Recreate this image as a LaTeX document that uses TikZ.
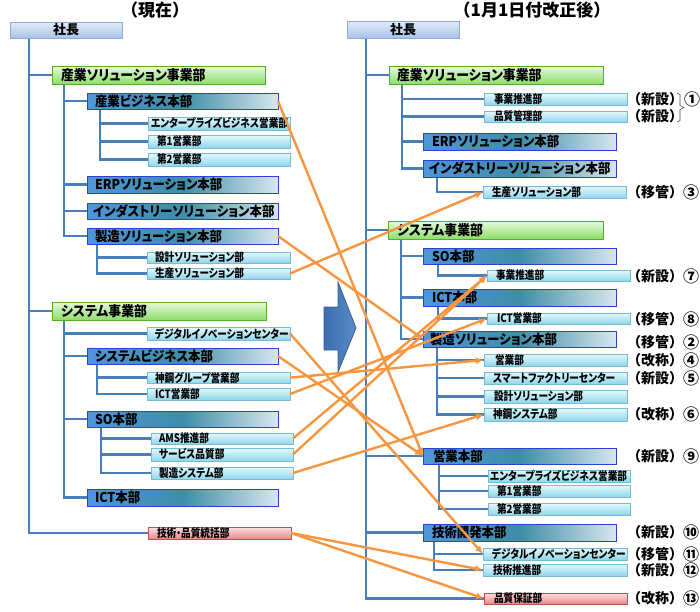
\documentclass[tikz,border=0pt]{standalone}
\usepackage{fontspec}
\newfontfamily\jpT[FakeStretch=1.0]{Noto Sans CJK JP}
\newfontfamily\jpP[FakeStretch=1.0]{Noto Sans CJK JP}
\newfontfamily\jpG[FakeStretch=0.92,RawFeature={+palt}]{Noto Sans CJK JP}
\newfontfamily\jpH[FakeStretch=0.92,RawFeature={+palt}]{Noto Sans CJK JP}
\newfontfamily\jpS[FakeStretch=0.84,RawFeature={+palt}]{Noto Sans CJK JP}
\newfontfamily\jpA[FakeStretch=1.0]{Noto Sans CJK JP}
\usetikzlibrary{arrows.meta,shadows}
\pgfdeclarelayer{background}
\pgfsetlayers{background,main}
\definecolor{cPresD}{HTML}{8EAADB}
\definecolor{cPresT}{HTML}{E2EBF7}
\definecolor{cPresB}{HTML}{A9C3E6}
\definecolor{cGrnD}{HTML}{4FB02A}
\definecolor{cGrnT}{HTML}{E6FADC}
\definecolor{cGrnB}{HTML}{8EDC6A}
\definecolor{cHqD}{HTML}{2F3FD8}
\definecolor{cHqL}{HTML}{4F95DC}
\definecolor{cHqM}{HTML}{3E8DA8}
\definecolor{cHqR}{HTML}{D8E6EF}
\definecolor{cSubD}{HTML}{78BCD0}
\definecolor{cSubT}{HTML}{E6F9FD}
\definecolor{cSubB}{HTML}{8ED6EC}
\definecolor{cPnkD}{HTML}{C0504D}
\definecolor{cPnkT}{HTML}{FBE2E2}
\definecolor{cPnkB}{HTML}{E58888}
\definecolor{cTree}{HTML}{4A7EBB}
\definecolor{cOrg}{HTML}{F7963F}
\definecolor{cArwL}{HTML}{3C6EAD}
\definecolor{cArwR}{HTML}{5B8BCB}
\definecolor{cArwD}{HTML}{35608F}
\tikzset{
 bx/.style={rectangle, outer sep=0pt, text=black},
 pres/.style={bx, draw=cPresD, line width=0.8pt, top color=cPresT, bottom color=cPresB, font=\jpP\bfseries\fontsize{13}{13}\selectfont},
 grp/.style={bx, draw=cGrnD, line width=0.9pt, top color=cGrnT, bottom color=cGrnB, font=\jpG\bfseries\fontsize{14}{14}\selectfont},
 hq/.style={bx, draw=cHqD, line width=0.9pt, left color=cHqL, right color=cHqR, middle color=cHqM, font=\jpH\bfseries\fontsize{13.5}{13.5}\selectfont},
 sub/.style={bx, draw=cSubD, line width=0.7pt, top color=cSubT, bottom color=cSubB, font=\jpS\bfseries\fontsize{11.5}{11.5}\selectfont, drop shadow={shadow xshift=1pt, shadow yshift=-1.2pt, opacity=0.25}},
 pnk/.style={sub, draw=cPnkD, top color=cPnkT, bottom color=cPnkB},
 ttl/.style={font=\jpT\bfseries\fontsize{17}{17}\selectfont, inner sep=0pt},
 annot/.style={font=\jpA\bfseries\fontsize{14}{14}\selectfont, inner sep=0pt, anchor=west},
 numb/.style={font=\jpA\bfseries\fontsize{16}{16}\selectfont, inner sep=0pt, anchor=west},
 tree/.style={draw=cTree, line width=2.5pt},
 mv/.style={draw=cOrg, line width=2.4pt, -{Latex[length=8pt,width=7pt]}},
}
\newcommand\mkbox[9]{%
  \pgfmathsetmacro\mkbw{#5-#3-2*#7}%
  \pgfmathsetmacro\mkbh{#6-#4}%
  \node[#1, anchor=north west, inner xsep=#7pt, inner ysep=0pt, minimum height=\mkbh pt] (#2) at (#3,#4) {\makebox[\mkbw pt][#8]{#9}};%
}
\newcommand\mknote[4]{%
  \node[annot] (#1) at (627,#2) {（#3）};%
  \node[numb] (#1n) at (683,#2) {#4};%
}
\begin{document}
\begin{tikzpicture}[x=1pt,y=-1pt]
\useasboundingbox (0,0) rectangle (700,611);
% titles
\node[ttl] (tl) at (155,10) {（現在）};
\node[ttl] (tr) at (532,10) {（1月1日付改正後）};
% ---------- left ----------
\mkbox{pres}{presL}{10}{22}{122}{38}{4}{c}{社長}
\mkbox{grp}{g1L}{52}{66}{265}{84}{9}{l}{産業ソリューション事業部}
\mkbox{hq}{h1L}{87}{93}{278}{109}{8}{l}{産業ビジネス本部}
\mkbox{sub}{s1L}{148}{117}{290}{130}{3}{l}{エンタープライズビジネス営業部}
\mkbox{sub}{s2L}{148}{135}{290}{148}{9}{l}{第1営業部}
\mkbox{sub}{s3L}{148}{153}{290}{166}{9}{l}{第2営業部}
\mkbox{hq}{h2L}{87}{176}{278}{193}{8}{l}{ERPソリューション本部}
\mkbox{hq}{h3L}{87}{203}{278}{219}{6}{l}{インダストリーソリューション本部}
\mkbox{hq}{h4L}{87}{228}{278}{244}{8}{l}{製造ソリューション本部}
\mkbox{sub}{s4L}{147}{252}{290}{263}{8}{l}{設計ソリューション部}
\mkbox{sub}{s5L}{147}{268}{290}{279}{8}{l}{生産ソリューション部}
\mkbox{grp}{g2L}{52}{302}{266}{320}{9}{l}{システム事業部}
\mkbox{sub}{s6L}{147}{327}{290}{340}{8}{l}{デジタルイノベーションセンター}
\mkbox{hq}{h5L}{87}{348}{278}{364}{8}{l}{システムビジネス本部}
\mkbox{sub}{s7L}{147}{372}{290}{383}{8}{l}{神鋼グループ営業部}
\mkbox{sub}{s8L}{147}{388}{290}{400}{8}{l}{ICT営業部}
\mkbox{hq}{h6L}{87}{411}{278}{427}{8}{l}{SO本部}
\mkbox{sub}{s9L}{151}{433}{293}{444}{8}{l}{AMS推進部}
\mkbox{sub}{s10L}{151}{448}{293}{461}{8}{l}{サービス品質部}
\mkbox{sub}{s11L}{151}{467}{293}{479}{8}{l}{製造システム部}
\mkbox{hq}{h7L}{87}{489}{278}{506}{8}{l}{ICT本部}
\mkbox{pnk}{pkL}{148}{527}{291}{539}{9}{l}{技術・品質統括部}
% ---------- right ----------
\mkbox{pres}{presR}{347}{21}{459}{38}{4}{c}{社長}
\mkbox{grp}{g1R}{389}{66}{603}{84}{8}{l}{産業ソリューション事業部}
\mkbox{sub}{s1R}{484}{93}{627}{105}{10}{l}{事業推進部}
\mkbox{sub}{s2R}{484}{111}{627}{122}{10}{l}{品質管理部}
\mkbox{hq}{h1R}{423}{133}{616}{150}{9}{l}{ERPソリューション本部}
\mkbox{hq}{h2R}{423}{160}{616}{177}{6}{l}{インダストリーソリューション本部}
\mkbox{sub}{s3R}{483}{186}{626}{198}{9}{l}{生産ソリューション部}
\mkbox{grp}{g2R}{388}{221}{603}{239}{9}{l}{システム事業部}
\mkbox{hq}{h3R}{423}{248}{616}{264}{9}{l}{SO本部}
\mkbox{sub}{s4R}{487}{270}{630}{281}{9}{l}{事業推進部}
\mkbox{hq}{h4R}{423}{289}{616}{306}{9}{l}{ICT本部}
\mkbox{sub}{s5R}{487}{313}{630}{324}{10}{l}{ICT営業部}
\mkbox{hq}{h5R}{423}{331}{616}{347}{7}{l}{製造ソリューション本部}
\mkbox{sub}{s6R}{484}{354}{627}{366}{11}{l}{営業部}
\mkbox{sub}{s7R}{484}{372}{627}{384}{9}{l}{スマートファクトリーセンター}
\mkbox{sub}{s8R}{484}{390}{627}{403}{10}{l}{設計ソリューション部}
\mkbox{sub}{s9R}{484}{408}{627}{421}{9}{l}{神鋼システム部}
\mkbox{hq}{h6R}{423}{448}{616}{464}{10}{l}{営業本部}
\mkbox{sub}{s10R}{488}{470}{630}{482}{2}{l}{エンタープライズビジネス営業部}
\mkbox{sub}{s11R}{488}{485}{630}{497}{9}{l}{第1営業部}
\mkbox{sub}{s12R}{488}{503}{630}{515}{9}{l}{第2営業部}
\mkbox{hq}{h7R}{423}{524}{616}{541}{9}{l}{技術開発本部}
\mkbox{sub}{s13R}{483}{548}{627}{560}{9}{l}{デジタルイノベーションセンター}
\mkbox{sub}{s14R}{483}{564}{627}{576}{10}{l}{技術推進部}
\mkbox{pnk}{pkR}{484}{593}{627}{603}{10}{l}{品質保証部}
% ---------- tree lines ----------
\begin{pgfonlayer}{background}
\coordinate (tL) at ([xshift=19pt]presL.south west);
\foreach \t in {g1L,g2L,pkL} \draw[tree] (tL) |- (\t.west);
\foreach \t in {h1L,h2L,h3L,h4L} \draw[tree] ([xshift=12pt]g1L.south west) |- (\t.west);
\foreach \t in {s1L,s2L,s3L} \draw[tree] ([xshift=13pt]h1L.south west) |- (\t.west);
\foreach \t in {s4L,s5L} \draw[tree] ([xshift=10pt]h4L.south west) |- (\t.west);
\foreach \t in {s6L,h5L,h6L,h7L} \draw[tree] ([xshift=12pt]g2L.south west) |- (\t.west);
\foreach \t in {s7L,s8L} \draw[tree] ([xshift=10pt]h5L.south west) |- (\t.west);
\foreach \t in {s9L,s10L,s11L} \draw[tree] ([xshift=14pt]h6L.south west) |- (\t.west);
\coordinate (tR) at ([xshift=19pt]presR.south west);
\foreach \t in {g1R,g2R,h6R,h7R,pkR} \draw[tree] (tR) |- (\t.west);
\foreach \t in {s1R,s2R,h1R,h2R} \draw[tree] ([xshift=13pt]g1R.south west) |- (\t.west);
\draw[tree] ([xshift=14pt]h2R.south west) |- (s3R.west);
\foreach \t in {h3R,h4R,h5R} \draw[tree] ([xshift=13pt]g2R.south west) |- (\t.west);
\draw[tree] ([xshift=15pt]h3R.south west) |- (s4R.west);
\draw[tree] ([xshift=15pt]h4R.south west) |- (s5R.west);
\foreach \t in {s6R,s7R,s8R,s9R} \draw[tree] ([xshift=14pt]h5R.south west) |- (\t.west);
\foreach \t in {s10R,s11R,s12R} \draw[tree] ([xshift=16pt]h6R.south west) |- (\t.west);
\foreach \t in {s13R,s14R} \draw[tree] ([xshift=11pt]h7R.south west) |- (\t.west);
\end{pgfonlayer}
% ---------- big arrow ----------
\draw[cArwD, line width=0.8pt, left color=cArwL, right color=cArwR]
  (324,307) -- (338,307) -- (338,282) -- (356,328) -- (338,372) -- (338,350) -- (324,350) -- cycle;
% ---------- annotations ----------
\node[annot] (a1) at (627,99) {（新設）};
\node[annot] (a1b) at (627,116.5) {（新設）};
\draw[black!75, line width=0.6pt] (677,93) -- (680,94.5) -- (680,105.5) -- (684,107.5) -- (680,109.5) -- (680,120.5) -- (677,122);
\node[numb] (n1) at (684,99) {①};
\mknote{a3}{192}{移管}{③}
\mknote{a7}{276}{新設}{⑦}
\mknote{a8}{319}{移管}{⑧}
\mknote{a2}{342}{移管}{②}
\mknote{a4}{360}{改称}{④}
\mknote{a5}{378}{新設}{⑤}
\mknote{a6}{414.5}{改称}{⑥}
\mknote{a9}{456}{新設}{⑨}
\mknote{a10}{532}{新設}{⑩}
\mknote{a11}{554}{移管}{⑪}
\mknote{a12}{570}{新設}{⑫}
\mknote{a13}{598}{改称}{⑬}
% ---------- movement arrows ----------
\draw[mv] (h1L.east) -- (h6R.west);
\draw[mv] (h4L.east) -- (h5R.west);
\draw[mv] (s5L.east) -- (s3R.west);
\draw[mv] (s6L.east) -- (s13R.west);
\draw[mv] (h5L.east) -- (h6R.west);
\draw[mv] (s7L.east) -- (s6R.west);
\draw[mv] (s8L.east) -- (s5R.west);
\draw[mv] (s9L.east) -- (s4R.west);
\draw[mv] (s10L.east) -- (s4R.west);
\draw[mv] (s11L.east) -- (s9R.west);
\draw[mv] (pkL.east) -- (s14R.west);
\draw[mv] (pkL.east) -- (pkR.west);
\end{tikzpicture}
\end{document}
